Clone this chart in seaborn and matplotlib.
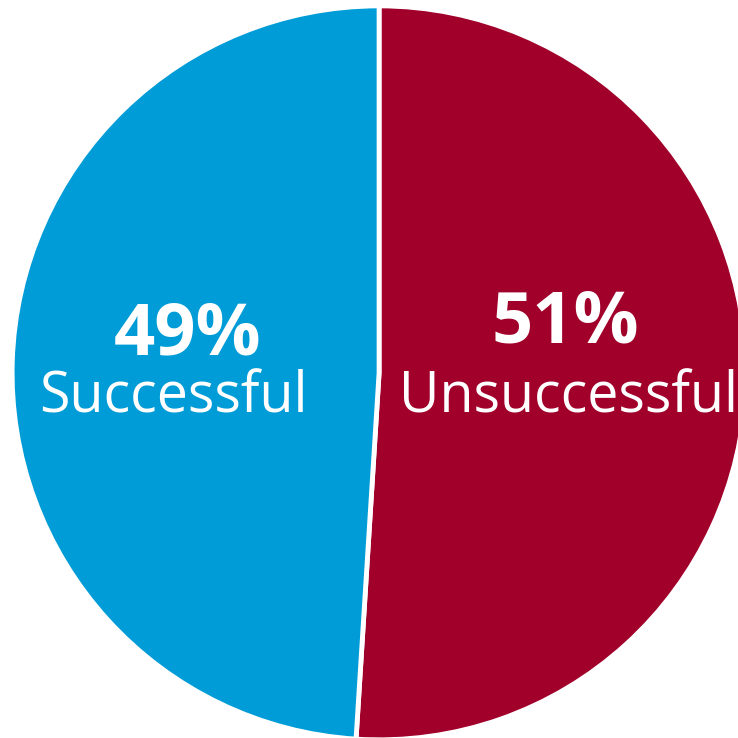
import matplotlib
matplotlib.use("Agg")
import matplotlib.pyplot as plt
import seaborn as sns

# data
labels = ["Unsuccessful", "Successful"]
shares = [51, 49]
colors = ["#A0002A", "#009CD7"]

sns.set_theme(style="white")
plt.rcParams['font.family'] = ['Open Sans', 'DejaVu Sans']

fig = plt.figure(figsize=(7.38, 7.38), dpi=100)
ax = fig.add_axes([0, 0, 1, 1])

wedges, _ = ax.pie(shares, colors=colors, startangle=90, counterclock=False,
                   wedgeprops=dict(edgecolor="white", linewidth=3.5))

# label anchors (baseline of the percent, baseline of the name)
pos = {"Unsuccessful": (0.508, 0.084, 0.515), "Successful": (-0.522, 0.049, -0.560)}
for lab, val in zip(labels, shares):
    xp, yp, xl = pos[lab]
    ax.text(xp, yp, f"{val}%", ha="center", va="baseline", color="white",
            fontsize=52, fontweight="bold")
    ax.text(xl, -0.109, lab, ha="center", va="baseline", color="white",
            fontsize=40)

ax.set_xlim(-1.033, 0.978)
ax.set_ylim(-0.995, 1.016)
ax.set_aspect("equal")
ax.axis("off")

fig.savefig("out.png", dpi=100)
